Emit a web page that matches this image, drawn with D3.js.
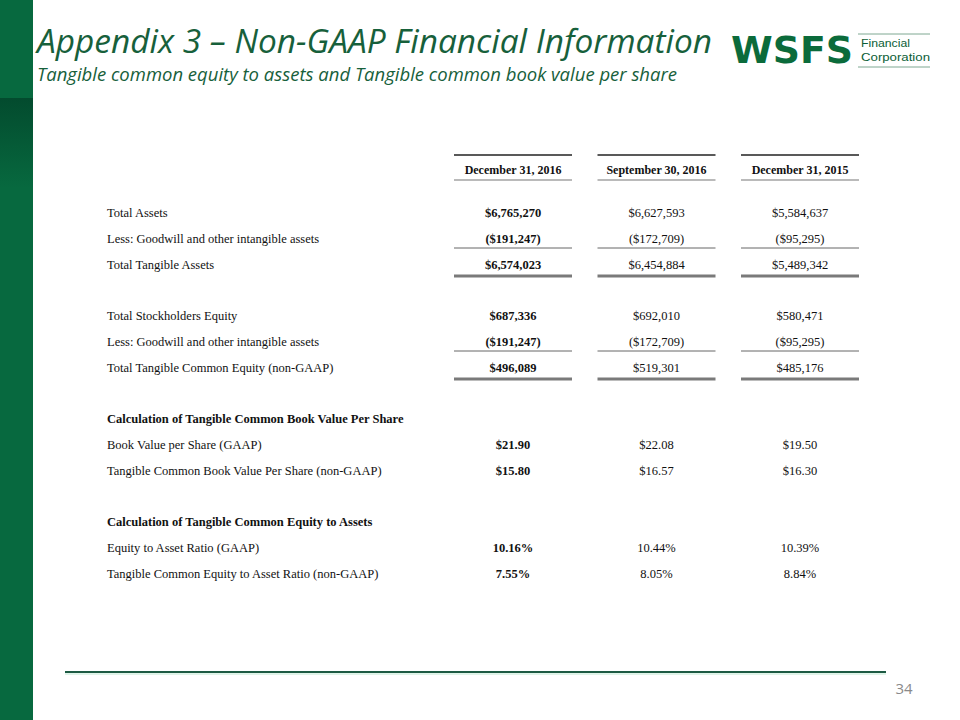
<!DOCTYPE html>
<html>
<head>
<meta charset="utf-8">
<script src="https://cdn.jsdelivr.net/npm/d3@7"></script>
<style>
  body { margin: 0; background: #fff; }
  svg { display: block; }
  .lbl { font-family: "Liberation Serif", "Times New Roman", serif; font-size: 12.5px; fill: #111; }
  .bold { font-weight: bold; }
  .hdr { font-size: 12px; }
</style>
</head>
<body>
<svg id="slide" width="960" height="720"></svg>
<script>
// ---- data ----
var columns = ["December 31, 2016", "September 30, 2016", "December 31, 2015"];

var groupTitles = [null, null, "Calculation of Tangible Common Book Value Per Share", "Calculation of Tangible Common Equity to Assets"];

var rowLabels = [
  ["Total Assets", "Less: Goodwill and other intangible assets", "Total Tangible Assets"],
  ["Total Stockholders Equity", "Less: Goodwill and other intangible assets", "Total Tangible Common Equity (non-GAAP)"],
  [null, "Book Value per Share (GAAP)", "Tangible Common Book Value Per Share (non-GAAP)"],
  [null, "Equity to Asset Ratio (GAAP)", "Tangible Common Equity to Asset Ratio (non-GAAP)"]
];

var dec2016 = [
  ["$6,765,270", "($191,247)", "$6,574,023"],
  ["$687,336", "($191,247)", "$496,089"],
  [null, "$21.90", "$15.80"],
  [null, "10.16%", "7.55%"]
];
var sep2016 = [
  ["$6,627,593", "($172,709)", "$6,454,884"],
  ["$692,010", "($172,709)", "$519,301"],
  [null, "$22.08", "$16.57"],
  [null, "10.44%", "8.05%"]
];
var dec2015 = [
  ["$5,584,637", "($95,295)", "$5,489,342"],
  ["$580,471", "($95,295)", "$485,176"],
  [null, "$19.50", "$16.30"],
  [null, "10.39%", "8.84%"]
];
var seriesValues = [dec2016, sep2016, dec2015];

// ---- layout ----
var green = "#07693f";
var svg = d3.select("#slide");

// left green bar with darker band
var defs = svg.append("defs");
var grad = defs.append("linearGradient").attr("id", "band")
  .attr("x1", 0).attr("y1", 0).attr("x2", 0).attr("y2", 1);
grad.append("stop").attr("offset", "0").attr("stop-color", "#034b2e");
grad.append("stop").attr("offset", "1").attr("stop-color", green);

svg.append("rect").attr("x", 0).attr("y", 0).attr("width", 33).attr("height", 720).attr("fill", green);
svg.append("rect").attr("x", 0).attr("y", 98).attr("width", 33).attr("height", 90).attr("fill", "url(#band)");

// title
svg.append("text")
  .attr("x", 37).attr("y", 53)
  .attr("textLength", 675).attr("lengthAdjust", "spacingAndGlyphs")
  .style("font-family", "'Open Sans', sans-serif")
  .style("font-style", "italic")
  .style("font-size", "33px")
  .attr("fill", "#17603b")
  .text("Appendix 3 \u2013 Non-GAAP Financial Information");

svg.append("text")
  .attr("x", 37).attr("y", 81)
  .attr("textLength", 640).attr("lengthAdjust", "spacingAndGlyphs")
  .style("font-family", "'Open Sans', sans-serif")
  .style("font-style", "italic")
  .style("font-size", "19px")
  .attr("fill", "#17603b")
  .text("Tangible common equity to assets and Tangible common book value per share");

// logo
var logo = svg.append("g");
logo.append("text")
  .attr("x", 731).attr("y", 63)
  .attr("textLength", 122).attr("lengthAdjust", "spacingAndGlyphs")
  .style("font-family", "'DejaVu Sans', sans-serif")
  .style("font-weight", "bold")
  .style("font-size", "38px")
  .attr("fill", "#0b6b3b")
  .text("WSFS");
logo.append("line").attr("x1", 858).attr("x2", 930).attr("y1", 34).attr("y2", 34)
  .attr("stroke", "#7fa892").attr("stroke-width", 1);
logo.append("line").attr("x1", 858).attr("x2", 930).attr("y1", 67).attr("y2", 67)
  .attr("stroke", "#7fa892").attr("stroke-width", 1);
logo.append("text").attr("x", 861).attr("y", 47)
  .attr("textLength", 49).attr("lengthAdjust", "spacingAndGlyphs")
  .style("font-family", "'Liberation Sans', sans-serif").style("font-size", "11.5px")
  .attr("fill", "#0b5e36").text("Financial");
logo.append("text").attr("x", 861).attr("y", 61)
  .attr("textLength", 69).attr("lengthAdjust", "spacingAndGlyphs")
  .style("font-family", "'Liberation Sans', sans-serif").style("font-size", "11.5px")
  .attr("fill", "#0b5e36").text("Corporation");

// scales
var xCol = d3.scalePoint().domain(columns).range([513, 800]);
var halfW = 59;
var yGroup = d3.scaleLinear().domain([0, 3]).range([213, 522]);
var rowStep = 26;
function rowY(g, i) { return yGroup(g) + rowStep * i; }

var table = svg.append("g");

// header
columns.forEach(function(c) {
  var cx = xCol(c);
  table.append("line").attr("x1", cx - halfW).attr("x2", cx + halfW)
    .attr("y1", 155).attr("y2", 155).attr("stroke", "#222").attr("stroke-width", 1.5);
  table.append("text").attr("class", "lbl bold hdr").attr("x", cx).attr("y", 174)
    .attr("text-anchor", "middle").text(c);
  table.append("line").attr("x1", cx - halfW).attr("x2", cx + halfW)
    .attr("y1", 180).attr("y2", 180).attr("stroke", "#777").attr("stroke-width", 1.2);
});

// row labels
rowLabels.forEach(function(rows, g) {
  rows.forEach(function(lab, i) {
    var txt = lab;
    var isHead = false;
    if (i === 0 && groupTitles[g]) { txt = groupTitles[g]; isHead = true; }
    if (!txt) return;
    table.append("text").attr("class", isHead ? "lbl bold" : "lbl")
      .attr("x", 107).attr("y", rowY(g, i) + 4).text(txt);
  });
});

// values
columns.forEach(function(c, ci) {
  var cx = xCol(c);
  seriesValues[ci].forEach(function(rows, g) {
    rows.forEach(function(v, i) {
      if (v == null) return;
      table.append("text").attr("class", ci === 0 ? "lbl bold" : "lbl")
        .attr("x", cx).attr("y", rowY(g, i) + 4)
        .attr("text-anchor", "middle").text(v);
    });
    if (g < 2) {
      // subtotal rule and double (thick) rule
      table.append("line").attr("x1", cx - halfW).attr("x2", cx + halfW)
        .attr("y1", rowY(g, 1) + 9).attr("y2", rowY(g, 1) + 9)
        .attr("stroke", "#666").attr("stroke-width", 1);
      table.append("line").attr("x1", cx - halfW).attr("x2", cx + halfW)
        .attr("y1", rowY(g, 2) + 11).attr("y2", rowY(g, 2) + 11)
        .attr("stroke", "#7a7a7a").attr("stroke-width", 3);
    }
  });
});

// footer rule and page number
svg.append("line").attr("x1", 65).attr("x2", 886).attr("y1", 674).attr("y2", 674)
  .attr("stroke", "#bfe8d2").attr("stroke-width", 1);
svg.append("line").attr("x1", 65).attr("x2", 886).attr("y1", 672).attr("y2", 672)
  .attr("stroke", "#1d5a43").attr("stroke-width", 2.2);
svg.append("text").attr("x", 904).attr("y", 694).attr("text-anchor", "middle")
  .style("font-family", "'Open Sans', sans-serif").style("font-size", "15px")
  .attr("fill", "#8a8a8a").text("34");
</script>
</body>
</html>
